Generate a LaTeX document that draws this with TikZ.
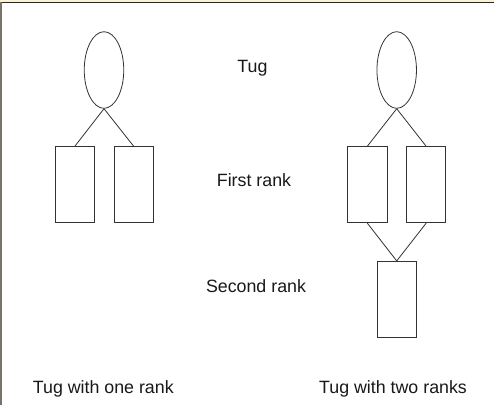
\documentclass[tikz,border=0pt]{standalone}
\usepackage{fontspec}
\setmainfont{Liberation Sans}
\usetikzlibrary{shapes.geometric}
\definecolor{stripcol}{HTML}{FBF3CF}
\definecolor{edgecol}{HTML}{7A7468}
\tikzset{
  tugshape/.style={draw=black!80, line width=0.8pt, ellipse, minimum width=39.5pt, minimum height=76.6pt, inner sep=0pt},
  rankbox/.style={draw=black!80, line width=0.8pt, rectangle, minimum width=39.2pt, minimum height=76pt, inner sep=0pt},
  link/.style={draw=black!80, line width=0.8pt},
  lbl/.style={font=\fontsize{17.8}{21}\selectfont, text=black!90, inner sep=0pt, anchor=base}
}
\begin{document}
\begin{tikzpicture}[x=1pt,y=-1pt]
\useasboundingbox (0,0) rectangle (494,405);
\fill[white] (0,0) rectangle (494,405);
\fill[stripcol] (0,0) rectangle (494,2);
\draw[black!85, line width=1pt] (0,2.5) -- (494,2.5);
\fill[edgecol] (0,2) rectangle (2,405);

% left tug
\node[tugshape] (lt) at (104,70) {};
\node[rankbox] (la) at (74.8,184.7) {};
\node[rankbox] (lb) at (133.7,184.7) {};
\draw[link] (lt.south) -- (la.north);
\draw[link] (lt.south) -- (lb.north);

% right tug
\node[tugshape] (rt) at (396.7,70) {};
\node[rankbox] (ra) at (367.3,184.7) {};
\node[rankbox] (rb) at (426.2,184.7) {};
\node[rankbox] (rc) at (396.7,299.3) {};
\draw[link] (rt.south) -- (ra.north);
\draw[link] (rt.south) -- (rb.north);
\draw[link] (ra.south) -- (rc.north);
\draw[link] (rb.south) -- (rc.north);

% labels
\node[lbl] (t1) at (252.5,72.4) {Tug};
\node[lbl] (t2) at (254,186.6) {First rank};
\node[lbl] (t3) at (256,292.6) {Second rank};
\node[lbl] (t4) at (103.3,393.5) {Tug with one rank};
\node[lbl] (t5) at (393,393.5) {Tug with two ranks};
\end{tikzpicture}
\end{document}
